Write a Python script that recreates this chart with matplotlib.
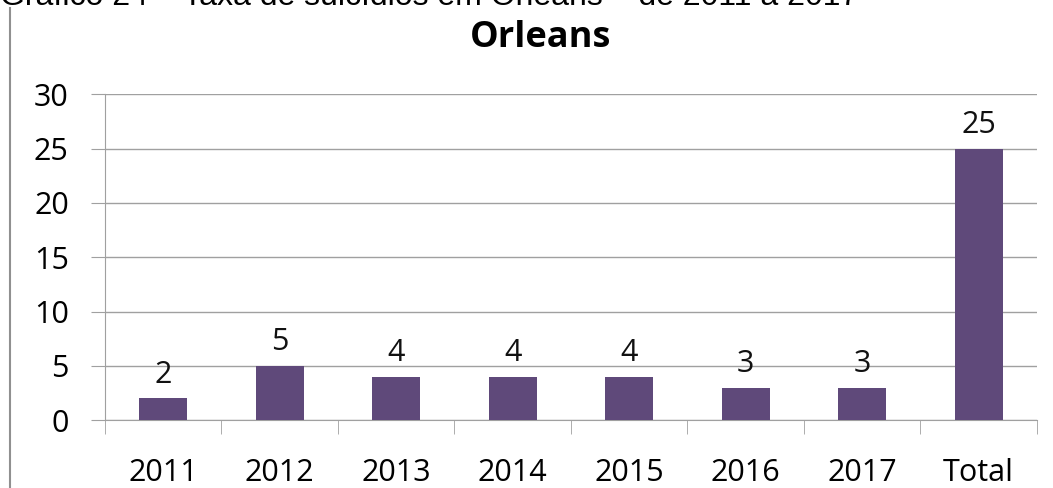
import numpy as np
import matplotlib.pyplot as plt

plt.rcParams['font.family'] = ['Open Sans', 'DejaVu Sans']

categories = ['2011', '2012', '2013', '2014', '2015', '2016', '2017', 'Total']
values = [2, 5, 4, 4, 4, 3, 3, 25]

fig = plt.figure(figsize=(10.53, 4.88), dpi=100)
ax = fig.add_axes([0.0997, 0.139, 0.885, 0.668])

x = np.arange(len(categories))
ax.bar(x, values, width=0.41, color='#5F497A', zorder=3)
for xi, v in zip(x, values):
    ax.text(xi, v + 0.8, str(v), ha='center', va='bottom', fontsize=22, color='#111111')

ax.set_xlim(-0.5, len(categories) - 0.5)
ax.set_ylim(0, 30)
ax.set_yticks(range(0, 31, 5))
ax.set_yticklabels([str(t) for t in range(0, 31, 5)], fontsize=22)
ax.set_xticks(x)
ax.set_xticklabels(categories, fontsize=22)
ax.tick_params(axis='x', length=0, pad=27)
ax.tick_params(axis='y', length=10, color='#a0a0a0', pad=16)
# category separators below the axis
ax.set_xticks(np.arange(-0.5, len(categories)), minor=True)
ax.tick_params(axis='x', which='minor', length=10, color='#a0a0a0')
ax.grid(axis='y', color='#a0a0a0', linewidth=1, zorder=0)
for s in ['top', 'right']:
    ax.spines[s].set_visible(False)
ax.spines['left'].set_color('#a0a0a0')
ax.spines['bottom'].set_color('#a0a0a0')

fig.text(0.513, 0.922, 'Orleans', ha='center', va='center', fontsize=26, fontweight='bold')
fig.text(0.0, 0.99, 'Gráfico 24 – Taxa de suicídios em Orleans – de 2011 a 2017',
         ha='left', va='baseline', fontsize=23, family=['Liberation Sans', 'DejaVu Sans'])
fig.add_artist(plt.Line2D([0.0095, 0.0095], [0.0, 0.983], color='#909090', linewidth=1.5))

fig.savefig('out.png', dpi=100)
